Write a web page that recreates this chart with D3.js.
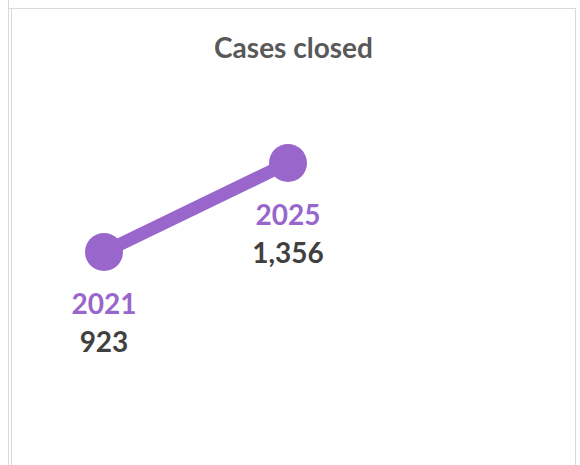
<!DOCTYPE html>
<html>
<head>
<meta charset="utf-8">
<script src="https://cdn.jsdelivr.net/npm/d3@7"></script>
<style>
  html, body { margin: 0; padding: 0; background: #ffffff; }
  svg { display: block; }
</style>
</head>
<body>
<svg id="chart" width="580" height="465"></svg>
<script>
// ---- data ----
const title = "Cases closed";
const years = [2021, 2025];
const values = [923, 1356];
const yearLabels = ["2021", "2025"];

// ---- styles ----
const purple = "#9966CC";
const dark = "#404040";
const titleColor = "#595959";
const frame = "#d9d9d9";
const font = "Lato, 'Open Sans', 'Liberation Sans', sans-serif";

const svg = d3.select("#chart");

// frame
svg.append("line").attr("x1", 8.5).attr("x2", 8.5).attr("y1", 0).attr("y2", 465)
  .attr("stroke", frame).attr("stroke-width", 1);
svg.append("rect").attr("x", 11.5).attr("y", 8.5).attr("width", 564).attr("height", 470)
  .attr("fill", "none").attr("stroke", frame).attr("stroke-width", 1);
svg.append("line").attr("x1", 8.5).attr("x2", 11.5).attr("y1", 8.5).attr("y2", 8.5)
  .attr("stroke", frame).attr("stroke-width", 1);

// title
svg.append("text")
  .attr("x", 293.5).attr("y", 58)
  .attr("text-anchor", "middle")
  .attr("font-family", font).attr("font-weight", 700).attr("font-size", 28)
  .attr("fill", titleColor)
  .text(title);

// scales
const x = d3.scaleLinear().domain([2021, 2025]).range([104, 288]);
const y = d3.scaleLinear().domain([0, 1500]).range([441.7, 133.4]);

const data = years.map((yr, i) => ({ year: yr, value: values[i], label: yearLabels[i] }));

// line
svg.append("path")
  .datum(data)
  .attr("fill", "none")
  .attr("stroke", purple)
  .attr("stroke-width", 13)
  .attr("d", d3.line().x(d => x(d.year)).y(d => y(d.value)));

// markers
svg.selectAll("circle.pt").data(data).join("circle")
  .attr("class", "pt")
  .attr("cx", d => x(d.year)).attr("cy", d => y(d.value)).attr("r", 19)
  .attr("fill", purple);

// labels
const fmt = d3.format(",");
svg.selectAll("text.yr").data(data).join("text")
  .attr("class", "yr")
  .attr("x", d => x(d.year)).attr("y", d => y(d.value) + 62)
  .attr("text-anchor", "middle")
  .attr("font-family", font).attr("font-weight", 700).attr("font-size", 28)
  .attr("fill", purple)
  .text(d => d.label);

svg.selectAll("text.val").data(data).join("text")
  .attr("class", "val")
  .attr("x", d => x(d.year)).attr("y", d => y(d.value) + 100)
  .attr("text-anchor", "middle")
  .attr("font-family", font).attr("font-weight", 700).attr("font-size", 28)
  .attr("fill", dark)
  .text(d => fmt(d.value));
</script>
</body>
</html>
